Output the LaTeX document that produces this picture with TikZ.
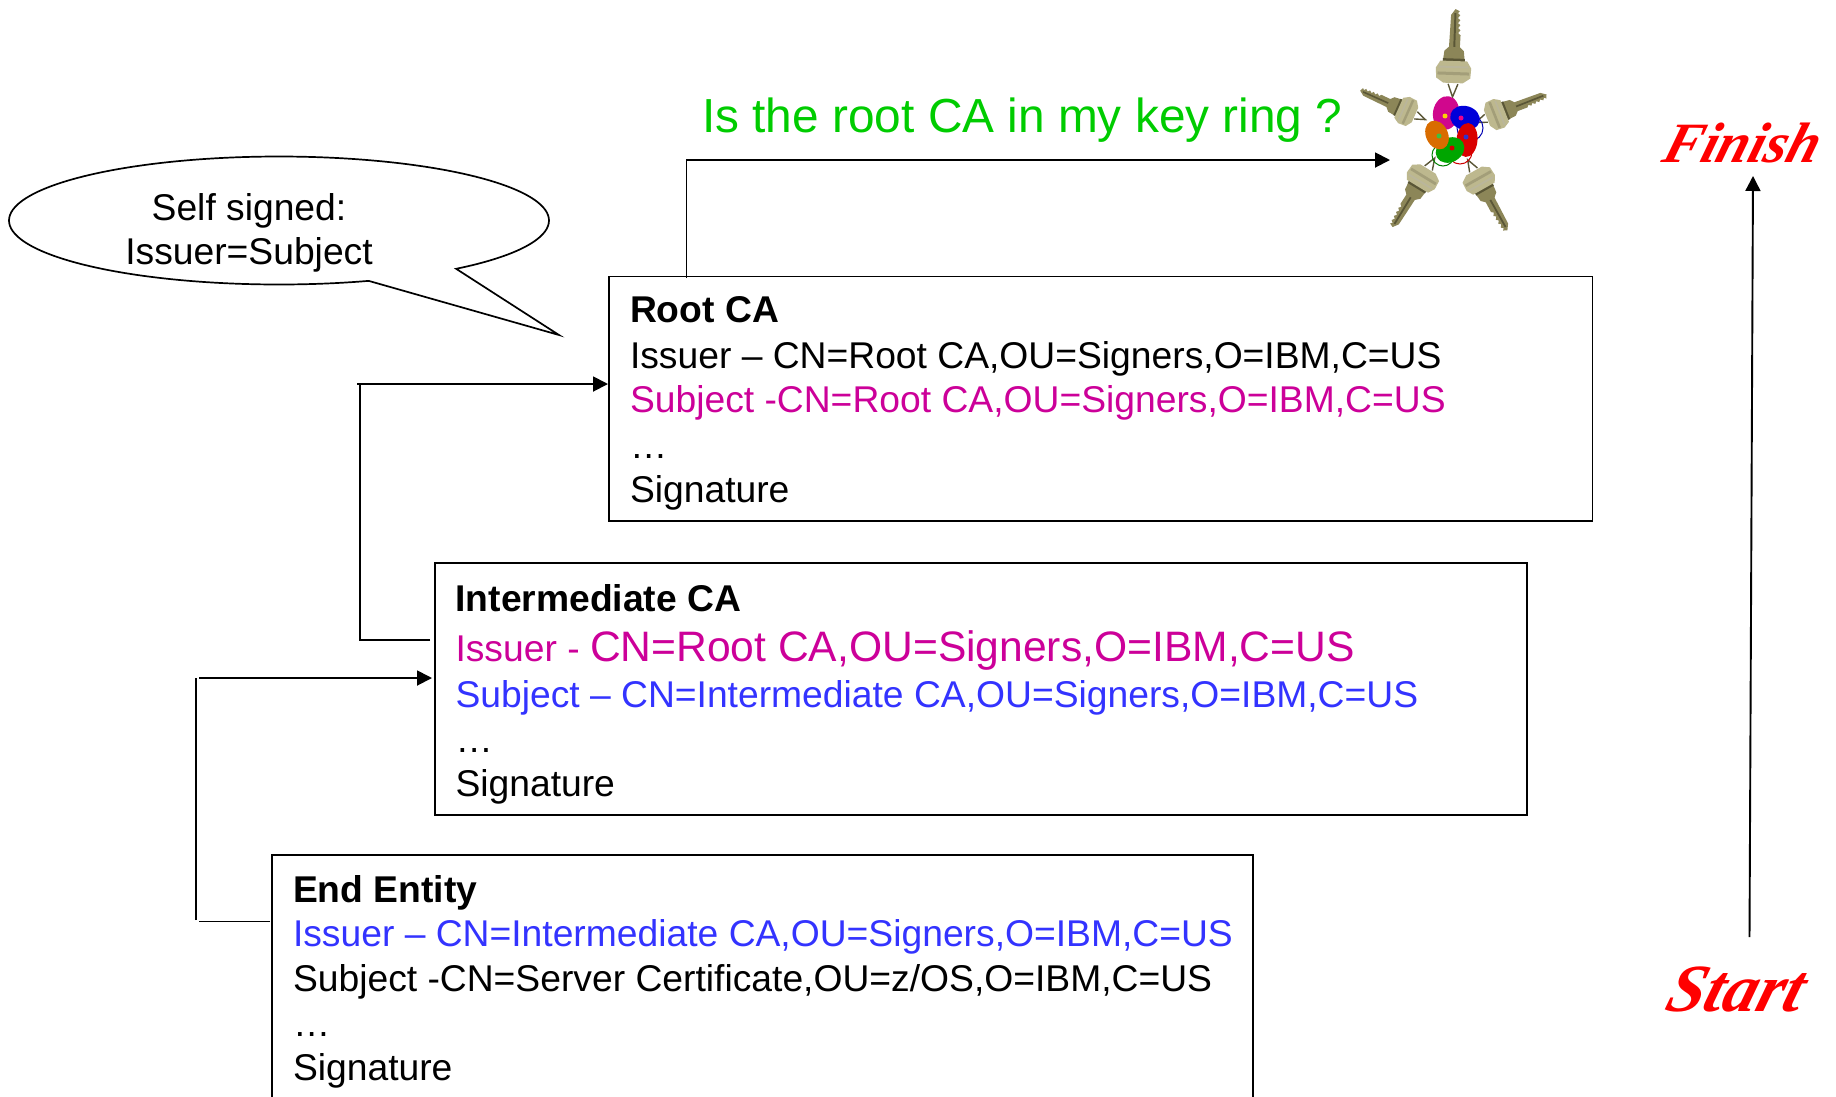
\documentclass[tikz,border=0pt]{standalone}
\usepackage{fontspec}
\setmainfont{Liberation Sans}
\newfontfamily\scriptish[FakeSlant=0.3]{Liberation Serif}
\usetikzlibrary{arrows.meta}
\definecolor{magentaca}{HTML}{CC0099}
\definecolor{blueca}{HTML}{3333FF}
\definecolor{greenca}{HTML}{00CC00}
\definecolor{redca}{HTML}{FF0000}
\definecolor{keymid}{HTML}{8C8658}
\definecolor{keylight}{HTML}{BDB88E}
\definecolor{keydark}{HTML}{5A5636}
\tikzset{
  certbox/.style={draw=black,line width=1.9pt,minimum width=#1,inner sep=0pt,outer sep=0pt},
  line/.style={draw=black,line width=1.9pt},
  arrowline/.style={line,-{Triangle[length=15pt,width=15pt]}},
  txt/.style={anchor=base west,inner sep=0pt,outer sep=0pt,font=\fontsize{37.25}{40}\selectfont},
  head/.style={txt,font=\fontsize{37.25}{40}\selectfont\bfseries},
  bubbletxt/.style={anchor=base,inner sep=0pt,outer sep=0pt,font=\fontsize{37.25}{40}\selectfont},
  scriptlabel/.style={anchor=base west,inner sep=0pt,outer sep=0pt,text=redca}
}
\newcommand{\keydraw}[4]{% base x, base y, angle, length
\begin{scope}[shift={(#1,#2)},rotate=#3,xscale=#4/74,yscale=1.22*#4/74]
  \draw[keydark,line width=1.4pt] (-1,-4) -- (-14,0) -- (-1,4);
  % blade with teeth
  \fill[keymid] (30,-4.5) -- (68,-3.5) -- (74,0) -- (72,3.5) -- (70,2) -- (68,4) -- (65,2.2) -- (63,4.2)
     -- (60,2.4) -- (58,4.4) -- (55,2.6) -- (53,4.6) -- (50,2.8) -- (48,4.8) -- (30,4.5) -- cycle;
  \fill[keydark] (34,-0.8) rectangle (70,0.8);
  % shoulder
  \fill[keymid] (21,-9) -- (32,-8) -- (36,-4.5) -- (36,4.5) -- (32,8) -- (21,9) -- cycle;
  \fill[keydark] (21.5,-9) rectangle (24.5,9);
  % plate
  \fill[keylight] (0,-8) -- (5,-14) -- (15,-14.5) -- (22,-11) -- (22,11) -- (15,14.5) -- (5,14) -- (0,8) -- cycle;
  \fill[keymid!80!white] (8,-13) rectangle (11,13);
  \fill[keymid!60!white] (15,-12) rectangle (17,12);
\end{scope}}
\begin{document}
\begin{tikzpicture}[x=1pt,y=-1pt]
\useasboundingbox (0,0) rectangle (1836,1096);
\fill[white] (0,0) rectangle (1836,1096);

% certificate boxes
\node[certbox=983.5pt,minimum height=244.5pt,anchor=north west] (root) at (609,276.5) {};
\node[certbox=1092pt,minimum height=252pt,anchor=north west] (inter) at (435,563) {};
\coordinate (endnw) at (272,855);
\coordinate (endne) at (1253,855);
\coordinate (endsw) at (272,1097);
\coordinate (endse) at (1253,1097);
\draw[line width=1.9pt] (endsw) -- (endnw) -- (endne) -- (endse);

% root text
\node[head] (r0) at (630,322.5) {Root CA};
\node[txt] (r1) at (630,368) {Issuer – CN=Root CA,OU=Signers,O=IBM,C=US};
\node[txt,text=magentaca] (r2) at (630,412) {Subject -CN=Root CA,OU=Signers,O=IBM,C=US};
\node[txt] (r3) at (630,458) {…};
\node[txt] (r4) at (630,502) {Signature};

% intermediate text
\node[head] (i0) at (455.5,611) {Intermediate CA};
\node[txt,text=magentaca] (i1) at (455.5,661) {Issuer - \fontsize{42.6}{46}\selectfont CN=Root CA,OU=Signers,O=IBM,C=US};
\node[txt,text=blueca] (i2) at (455.5,707) {Subject – CN=Intermediate CA,OU=Signers,O=IBM,C=US};
\node[txt] (i3) at (455.5,752) {…};
\node[txt] (i4) at (455.5,796) {Signature};

% end entity text
\node[head] (e0) at (293,902) {End Entity};
\node[txt,text=blueca] (e1) at (293,946) {Issuer – CN=Intermediate CA,OU=Signers,O=IBM,C=US};
\node[txt] (e2) at (293,991) {Subject -CN=Server Certificate,OU=z/OS,O=IBM,C=US};
\node[txt] (e3) at (293,1036) {…};
\node[txt] (e4) at (293,1080) {Signature};

% question
\node[anchor=base west,inner sep=0pt,text=greenca,font=\fontsize{47.8}{52}\selectfont] (ask) at (702,132) {Is the root CA in my key ring ?};

% speech bubble
\draw[line width=1.7pt] plot[domain=70.6:409,samples=140,smooth] ({279+270*cos(\x)},{220.5+64*sin(\x)}) -- (559,335) -- cycle;
\node[bubbletxt] (b1) at (249,220) {Self signed:};
\node[bubbletxt] (b2) at (249,264) {Issuer=Subject};

% connectors
\coordinate (q0) at (686.5,278);
\coordinate (q1) at (686.5,160);
\coordinate (q2) at (1390,160);
\draw[arrowline] (q0) -- (q1) -- (q2);

\coordinate (s0) at (430,640);
\coordinate (s1) at (360,640);
\coordinate (s2) at (360,384);
\coordinate (s2b) at (357,384);
\coordinate (s3) at (608,384);
\draw[line] (s0) -- (s1) -- (s2);
\draw[arrowline] (s2b) -- (s3);

\coordinate (t0) at (270,921.5);
\coordinate (t1) at (199,921.5);
\coordinate (t2) at (196,920);
\coordinate (t3) at (196,678);
\coordinate (t4) at (199,678);
\coordinate (t5) at (432,678);
\draw[line] (t0) -- (t1);
\draw[line] (t2) -- (t3);
\draw[arrowline] (t4) -- (t5);

\coordinate (st0) at (1749.5,937);
\coordinate (st1) at (1753,176);
\draw[arrowline] (st0) -- (st1);

% start and finish
\node[scriptlabel,font=\scriptish\bfseries\itshape\fontsize{57}{62}\selectfont] (fin) at (1660,162) {Finish};
\node[scriptlabel,font=\scriptish\bfseries\itshape\fontsize{67.5}{72}\selectfont] (sta) at (1663,1011) {Start};

% key ring
\keydraw{1453}{83}{88}{74}
\keydraw{1487}{118}{21.6}{64}
\keydraw{1415}{115}{156}{60}
\keydraw{1428}{169}{238.6}{68}
\keydraw{1474}{171}{-60.6}{68}
\draw[green!50!black,line width=1pt] (1443,155) circle[radius=11];
\draw[red!80!black,line width=1pt] (1460,152) circle[radius=12];
\draw[blue!70!black,line width=1pt] (1470,128) circle[radius=13];
\fill[magenta!85!blue,rotate around={-10:(1446,113)}] (1446,113) ellipse[x radius=13,y radius=17];
\fill[blue!85!black,rotate around={-15:(1465,118)}] (1465,118) ellipse[x radius=15,y radius=12];
\fill[red!85!black,rotate around={-5:(1467,140)}] (1467,140) ellipse[x radius=10.5,y radius=17];
\fill[green!65!black,rotate around={30:(1450,150)}] (1450,150) ellipse[x radius=15,y radius=12];
\fill[orange!85!black,rotate around={25:(1437,135)}] (1437,135) ellipse[x radius=11,y radius=15];
\fill[yellow!70!orange] (1445,116) circle[radius=2.5];
\fill[magenta] (1461,118) circle[radius=2.5];
\fill[blue!60!gray] (1466,137) circle[radius=2.5];
\fill[red!80!black] (1452,148) circle[radius=2.5];
\fill[green!50!gray] (1439,136) circle[radius=2.5];
\end{tikzpicture}
\end{document}
